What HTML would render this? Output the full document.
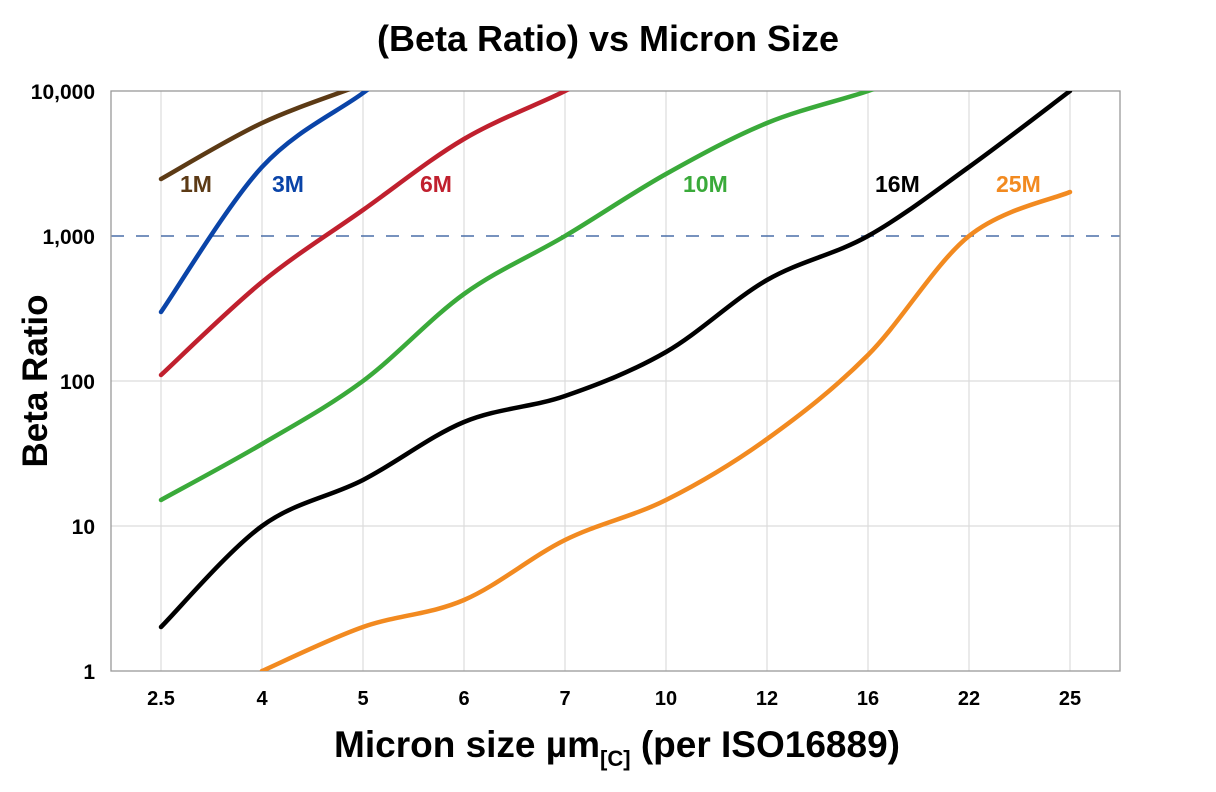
<!DOCTYPE html>
<html><head><meta charset="utf-8"><style>
html,body{margin:0;padding:0;background:#fff;}
svg{display:block;font-family:"Liberation Sans",Arial,sans-serif;font-weight:bold;}
</style></head><body>
<svg id="s" width="1216" height="792" viewBox="0 0 1216 792">
<defs><clipPath id="c"><rect x="111" y="91" width="1009" height="580"/></clipPath></defs>
<text x="608" y="51" font-size="36" text-anchor="middle">(Beta Ratio) vs Micron Size</text>
<g stroke="#dcdcdc" stroke-width="1.2">
<line x1="161" y1="91" x2="161" y2="671"/><line x1="262" y1="91" x2="262" y2="671"/><line x1="363" y1="91" x2="363" y2="671"/><line x1="464" y1="91" x2="464" y2="671"/><line x1="565" y1="91" x2="565" y2="671"/><line x1="666" y1="91" x2="666" y2="671"/><line x1="767" y1="91" x2="767" y2="671"/><line x1="868" y1="91" x2="868" y2="671"/><line x1="969" y1="91" x2="969" y2="671"/><line x1="1070" y1="91" x2="1070" y2="671"/>
<line x1="111" y1="381" x2="1120" y2="381"/><line x1="111" y1="526" x2="1120" y2="526"/>
</g>
<line x1="111" y1="236" x2="1120" y2="236" stroke="#4a6ea8" stroke-width="1.5" stroke-dasharray="13,12"/>
<rect x="111" y="91" width="1009" height="580" fill="none" stroke="#999" stroke-width="1.3"/>
<g id="lines" clip-path="url(#c)" fill="none" stroke-width="4.5" stroke-linejoin="round" stroke-linecap="round"></g>
<g font-size="23">
<text x="180" y="192" fill="#5c3a15">1M</text>
<text x="272" y="192" fill="#0a44a8">3M</text>
<text x="420" y="192" fill="#c0202e">6M</text>
<text x="683" y="192" fill="#3aaa3a">10M</text>
<text x="875" y="192" fill="#000">16M</text>
<text x="996" y="192" fill="#f28a20">25M</text>
</g>
<g font-size="21" text-anchor="end">
<text x="95" y="99">10,000</text><text x="95" y="244">1,000</text><text x="95" y="389">100</text><text x="95" y="534">10</text><text x="95" y="679">1</text>
</g>
<g font-size="20" text-anchor="middle">
<text x="161" y="705">2.5</text><text x="262" y="705">4</text><text x="363" y="705">5</text><text x="464" y="705">6</text><text x="565" y="705">7</text><text x="666" y="705">10</text><text x="767" y="705">12</text><text x="868" y="705">16</text><text x="969" y="705">22</text><text x="1070" y="705">25</text>
</g>
<text x="617" y="757" font-size="37" text-anchor="middle">Micron size µm<tspan font-size="22" dy="9">[C]</tspan><tspan dy="-9"> (per ISO16889)</tspan></text>
<text transform="translate(47,381) rotate(-90)" font-size="35" text-anchor="middle">Beta Ratio</text>
</svg>
<script>
var S=[
["#5c3a15",[[161,179],[262,123],[363,84],[420,60]]],
["#0a44a8",[[161,312],[262,167],[363,93],[420,50]]],
["#c0202e",[[161,375],[262,282],[363,210],[464,139],[565,91],[620,60]]],
["#3aaa3a",[[161,500],[262,444],[363,381],[464,294],[565,236],[666,174],[767,123],[868,91],[920,70]]],
["#000",[[161,627],[262,526],[363,480],[464,422],[565,396],[666,352],[767,280],[868,236],[969,167],[1070,91]]],
["#f28a20",[[262,671],[363,627],[464,600],[565,540],[666,500],[767,439],[868,355],[969,236],[1070,192]]]];
var g=document.getElementById('lines');
S.forEach(function(s){var p=s[1],d='M'+p[0][0]+','+p[0][1];
for(var i=0;i<p.length-1;i++){var a=p[i-1]||p[i],b=p[i],c=p[i+1],e=p[i+2]||c;
d+=' C'+(b[0]+(c[0]-a[0])/6)+','+(b[1]+(c[1]-a[1])/6)+' '+(c[0]-(e[0]-b[0])/6)+','+(c[1]-(e[1]-b[1])/6)+' '+c[0]+','+c[1];}
var el=document.createElementNS('http://www.w3.org/2000/svg','path');el.setAttribute('d',d);el.setAttribute('stroke',s[0]);g.appendChild(el);});
</script>
</body></html>
